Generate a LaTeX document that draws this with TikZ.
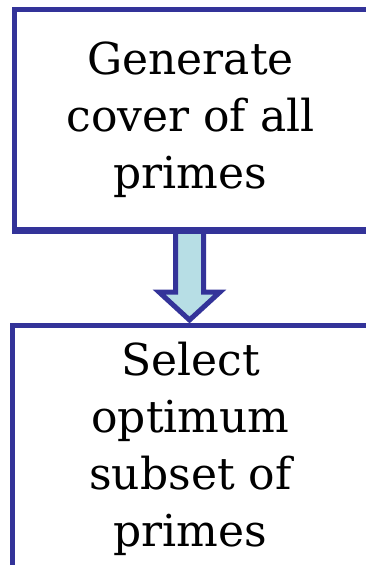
\documentclass[tikz,border=0pt]{standalone}
\usepackage{fontspec}
\setmainfont{DejaVu Serif}
\usetikzlibrary{calc}
\definecolor{boxblue}{RGB}{51,51,153}
\definecolor{arrowfill}{RGB}{183,222,229}
\tikzset{
  stepbox/.style={draw=boxblue, line width=5pt, fill=white, rectangle, inner sep=0pt},
  steptext/.style={align=center, inner sep=0pt, font=\fontsize{44}{57}\selectfont},
  blockarrow/.style={draw=boxblue, fill=arrowfill, line width=5pt, line join=miter},
}
\begin{document}
\begin{tikzpicture}[x=1pt,y=-1pt]
\useasboundingbox (0,0) rectangle (366,565);
\clip (0,0) rectangle (366,565);
% boxes
\node[stepbox, minimum width=355.5pt, minimum height=219.5pt] (top) at (192.25,119.25) {};
\node[stepbox, minimum width=357.5pt, minimum height=274.5pt] (bot) at (191.25,462.75) {};
% block arrow from top box to bottom box
\coordinate (as) at (189.5,0 |- top.south);
\coordinate (ae) at (189.5,0 |- bot.north);
\draw[blockarrow]
  ($(as)+(-14,0)$) -- ($(ae)+(-14,-31)$) -- ($(ae)+(-30.5,-31)$) -- ($(ae)+(0,-3)$)
  -- ($(ae)+(30.5,-31)$) -- ($(ae)+(14,-31)$) -- ($(as)+(14,0)$);
\draw[boxblue, line width=5pt] ($(top.south west)$) -- (top.south east);
% texts
\node[steptext] (t1) at (190.5,119.5) {Generate\\cover of all\\primes};
\node[steptext] (t2) at (190.5,449) {Select\\optimum\\subset of\\primes};
\end{tikzpicture}
\end{document}
